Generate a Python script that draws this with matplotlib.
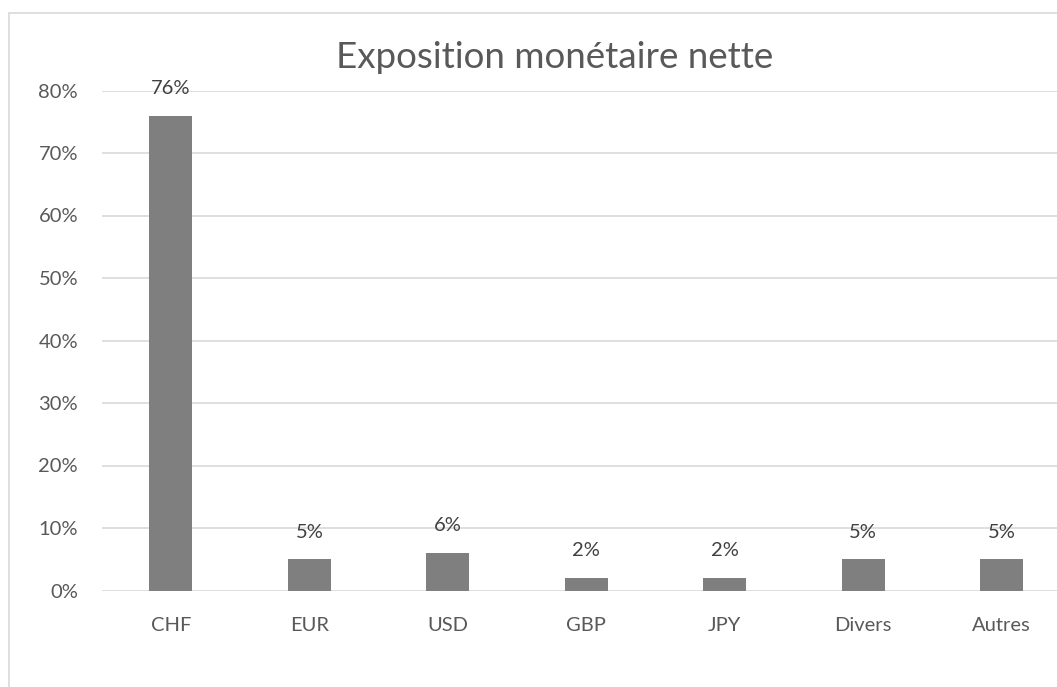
import matplotlib
matplotlib.use("Agg")
import matplotlib.pyplot as plt
import numpy as np
from matplotlib.patches import Rectangle

# --- data ---
categories = ["CHF", "EUR", "USD", "GBP", "JPY", "Divers", "Autres"]
values = [76, 5, 6, 2, 2, 5, 5]          # percent
y_ticks = [0, 10, 20, 30, 40, 50, 60, 70, 80]
title = "Exposition monétaire nette"

BAR = "#7f7f7f"
TEXT = "#595959"
GRID = "#d9d9d9"

plt.rcParams["font.family"] = ["Lato", "DejaVu Sans"]

W, H = 1057, 687
fig = plt.figure(figsize=(W / 100, H / 100), dpi=100)
fig.patch.set_facecolor("white")

# chart-area border (the reference is cropped on the right and bottom)
fig.add_artist(Rectangle((9 / W, -0.1), 1.2, 1 - 13 / H + 0.1,
                         transform=fig.transFigure, fill=False,
                         edgecolor=GRID, lw=1.2, clip_on=False))

# plot area: x from 101.7 px to ~1071 px, y from 90.5 px (80%) to 590.5 px (0%)
left, right = 101.7 / W, 1071 / W
top, bottom = 1 - 90.5 / H, 1 - 590.5 / H
ax = fig.add_axes([left, bottom, right - left, top - bottom])
ax.set_facecolor("none")

x = np.arange(len(categories))
bars = ax.bar(x, values, width=0.31, color=BAR, zorder=3)

ax.set_xlim(-0.5, len(categories) - 0.5)
ax.set_ylim(0, 80)
ax.set_yticks(y_ticks)
ax.set_yticklabels([f"{v}%" for v in y_ticks])
ax.set_xticks(x)
ax.set_xticklabels(categories)
ax.grid(axis="y", color=GRID, lw=1.2, zorder=0)
for s in ax.spines.values():
    s.set_visible(False)
ax.tick_params(axis="both", length=0, colors=TEXT, labelsize=14.5)
ax.tick_params(axis="y", pad=17)
ax.tick_params(axis="x", pad=19)

# value labels above each bar
for b, v in zip(bars, values):
    ax.annotate(f"{v}%", (b.get_x() + b.get_width() / 2, v),
                xytext=(0, 19.5), textcoords="offset points",
                ha="center", va="center", color="#404040", fontsize=14.5)

fig.text(555 / W, 1 - 68 / H, title, ha="center", va="baseline",
         color=TEXT, fontsize=26.5)

fig.savefig("out.png", dpi=100, facecolor="white")
plt.close(fig)
